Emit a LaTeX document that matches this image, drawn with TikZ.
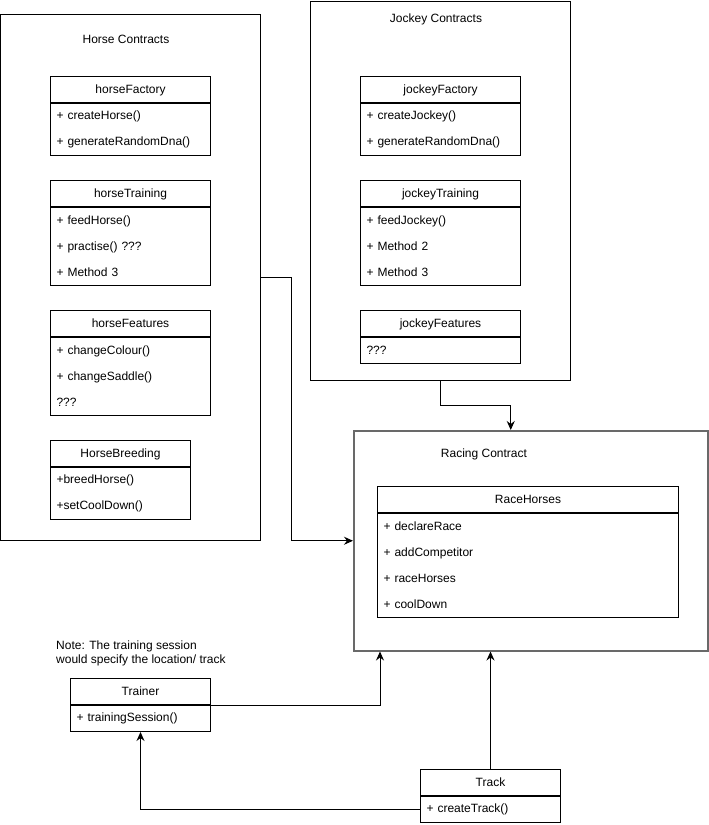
\documentclass[tikz,border=0pt]{standalone}
\usepackage{fontspec}
\setmainfont{Liberation Sans}
\usetikzlibrary{arrows.meta, positioning}
\definecolor{racegray}{RGB}{105, 105, 105}

\begin{document}
\begin{tikzpicture}[x=1pt, y=-1pt,
    font=\fontsize{12}{14}\selectfont,
    group/.style={draw, line width=1pt, anchor=north west, inner sep=0pt},
    classhead/.style={draw, line width=1pt, anchor=north west, inner sep=0pt, minimum height=26pt, text height=10pt, text depth=2pt},
    classbody/.style={draw, line width=1pt, below=0pt of #1, inner xsep=6pt, inner ysep=0pt, align=left, font=\fontsize{12}{26}\selectfont},
    link/.style={-{Stealth[length=9pt, width=8pt, inset=3pt]}, line width=1pt}
  ]
  \useasboundingbox (0,0) rectangle (709,825);

  % Containers
  \node[group, minimum width=260pt, minimum height=526pt] (horseC) at (0,14) {};
  \node (horseCtitle) at (126,39.5) {Horse Contracts};
  \node[group, minimum width=260pt, minimum height=379pt] (jockeyC) at (310,0.5) {};
  \node (jockeyCtitle) at (436,19) {Jockey Contracts};
  \node[group, draw=racegray, line width=1.5pt, minimum width=354pt, minimum height=220pt] (racingC) at (353,430) {};
  \node (racingCtitle) at (484,454.5) {Racing Contract};

  % Horse classes
  \node[classhead, minimum width=160pt] (horseFactory) at (50,76) {horseFactory};
  \node[classbody=horseFactory, text width=148pt, minimum height=52pt] (horseFactoryB) {+ createHorse()\\+ generateRandomDna()};
  \node[classhead, minimum width=160pt] (horseTraining) at (50,180) {horseTraining};
  \node[classbody=horseTraining, text width=148pt, minimum height=78pt] (horseTrainingB) {+ feedHorse()\\+ practise() ???\\+ Method 3};
  \node[classhead, minimum width=160pt] (horseFeatures) at (50,310) {horseFeatures};
  \node[classbody=horseFeatures, text width=148pt, minimum height=78pt] (horseFeaturesB) {+ changeColour()\\+ changeSaddle()\\???};
  \node[classhead, minimum width=140pt] (horseBreeding) at (50,440) {HorseBreeding};
  \node[classbody=horseBreeding, text width=128pt, minimum height=52pt] (horseBreedingB) {+breedHorse()\\+setCoolDown()};

  % Jockey classes
  \node[classhead, minimum width=160pt] (jockeyFactory) at (360,76) {jockeyFactory};
  \node[classbody=jockeyFactory, text width=148pt, minimum height=52pt] (jockeyFactoryB) {+ createJockey()\\+ generateRandomDna()};
  \node[classhead, minimum width=160pt] (jockeyTraining) at (360,180) {jockeyTraining};
  \node[classbody=jockeyTraining, text width=148pt, minimum height=78pt] (jockeyTrainingB) {+ feedJockey()\\+ Method 2\\+ Method 3};
  \node[classhead, minimum width=160pt] (jockeyFeatures) at (360,310) {jockeyFeatures};
  \node[classbody=jockeyFeatures, text width=148pt, minimum height=26pt] (jockeyFeaturesB) {???};

  % Racing class
  \node[classhead, minimum width=301pt] (raceHorses) at (377,486) {RaceHorses};
  \node[classbody=raceHorses, text width=289pt, minimum height=104pt] (raceHorsesB) {+ declareRace\\+ addCompetitor\\+ raceHorses\\+ coolDown};

  % Trainer and track
  \node[anchor=north west, align=left, inner sep=0pt] (note) at (56,641) {Note: The training session\\would specify the location/ track};
  \node[classhead, minimum width=140pt] (trainer) at (70,678) {Trainer};
  \node[classbody=trainer, text width=128pt, minimum height=26pt] (trainerB) {+ trainingSession()};
  \node[classhead, minimum width=140pt] (track) at (420,769) {Track};
  \node[classbody=track, text width=128pt, minimum height=26pt] (trackB) {+ createTrack()};

  % Connectors
  \draw[link] (horseC.east) -- ++(30,0) |- (racingC.west);
  \draw[link] (jockeyC.south) -- ++(0,25) -| ([xshift=-20pt]racingC.north);
  \draw[link] (trainer.south east) -| ([xshift=27pt]racingC.south west);
  \draw[link] (track.north) -- (track.north |- racingC.south);
  \draw[link] (trackB.west) -| (trainerB.south);
\end{tikzpicture}
\end{document}
